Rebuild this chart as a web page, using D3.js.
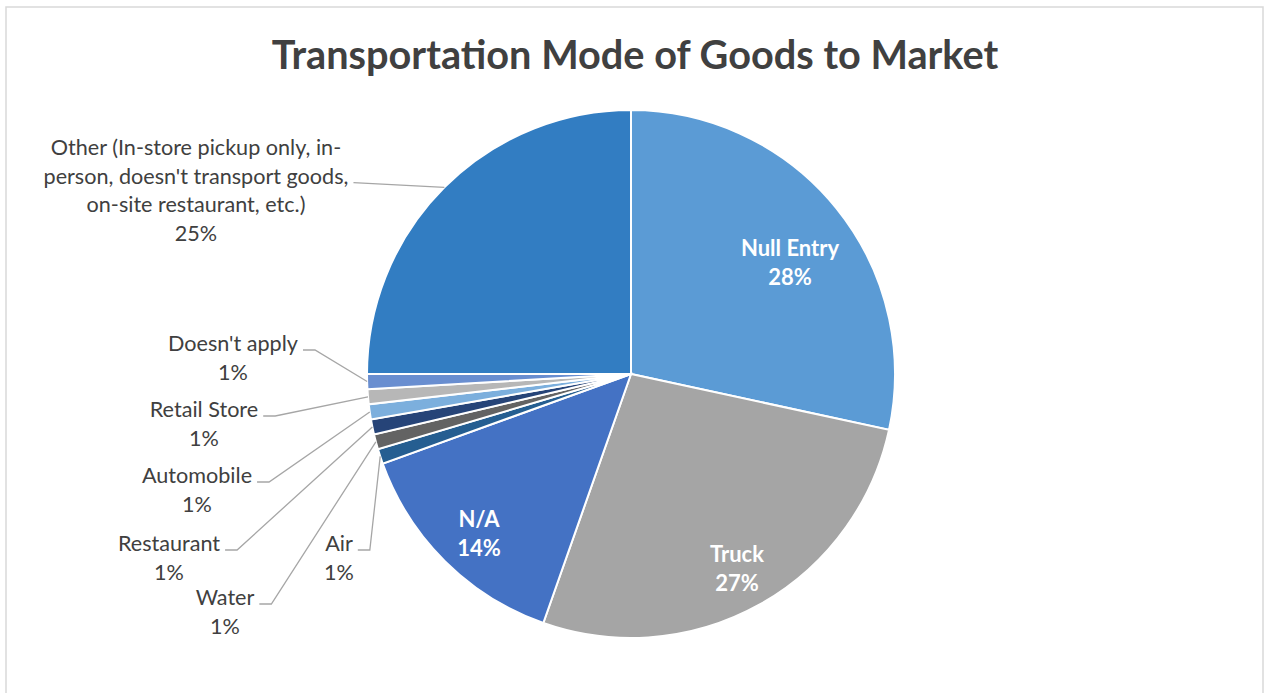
<!DOCTYPE html>
<html>
<head>
<meta charset="utf-8">
<script src="https://cdn.jsdelivr.net/npm/d3@7"></script>
<style>
  body { margin: 0; background: #fff; }
  svg text { font-family: Lato, "Open Sans", sans-serif; }
</style>
</head>
<body>
<div id="chart"></div>
<script>
var width = 1267, height = 693;

// data (clockwise from 12 o'clock)
var categories = ["Null Entry", "Truck", "N/A", "Air", "Water", "Restaurant",
                  "Automobile", "Retail Store", "Doesn't apply",
                  "Other (In-store pickup only, in-|person, doesn't transport goods,|on-site restaurant, etc.)"];
var shares = [28.4, 27.0, 14.1, 0.92, 0.92, 0.92, 0.92, 0.92, 0.92, 25.0];
var colors = ["#5B9BD5", "#A5A5A5", "#4472C4", "#255E91", "#636363", "#264478",
              "#7CAFDD", "#B7B7B7", "#698ED0", "#327DC2"];
var insideLabels = [true, true, true, false, false, false, false, false, false, false];

// label layout: centre x and first baseline, relative to the page
var labelAt = [
  [790, 256], [737, 562], [479, 527],
  [339, 551], [225, 605], [169, 551], [197, 483], [204, 417], [233, 351],
  [196, 155]
];
var lineGap = 28.7;

var cx = 631, cy = 374, radius = 264;

var svg = d3.select("#chart").append("svg")
    .attr("width", width)
    .attr("height", height);

svg.append("rect")
    .attr("x", 6).attr("y", 7)
    .attr("width", 1257).attr("height", 720)
    .attr("fill", "none")
    .attr("stroke", "#d9d9d9")
    .attr("stroke-width", 1.5);

svg.append("text")
    .attr("x", 635).attr("y", 69)
    .attr("text-anchor", "middle")
    .attr("font-size", 39.7)
    .attr("font-weight", "bold")
    .attr("fill", "#404040")
    .text("Transportation Mode of Goods to Market");

var rows = categories.map(function(c, i) {
  return { name: c, value: shares[i], color: colors[i], inside: insideLabels[i], pos: labelAt[i] };
});

var pie = d3.pie().sort(null).value(function(d) { return d.value; });
var arc = d3.arc().innerRadius(0).outerRadius(radius);

var g = svg.append("g").attr("transform", "translate(" + cx + "," + cy + ")");

var arcs = pie(rows);

g.selectAll("path")
  .data(arcs).enter()
  .append("path")
  .attr("d", arc)
  .attr("fill", function(d) { return d.data.color; })
  .attr("stroke", "#fff")
  .attr("stroke-width", 2);

var total = d3.sum(shares);

arcs.forEach(function(a) {
  var d = a.data;
  var lines = d.name.split("|");
  lines.push(Math.round(d.value / total * 100) + "%");
  var t = svg.append("text")
    .attr("text-anchor", "middle")
    .attr("font-size", d.inside ? 22 : 21.6)
    .attr("font-weight", d.inside ? "bold" : "normal")
    .attr("fill", d.inside ? "#fff" : "#404040");
  lines.forEach(function(l, k) {
    t.append("tspan")
      .attr("x", d.pos[0])
      .attr("y", d.pos[1] + k * lineGap)
      .text(l);
  });

  if (!d.inside) {
    // leader line: from label edge to middle of the slice's outer arc
    var mid = (a.startAngle + a.endAngle) / 2;
    var ex = cx + radius * Math.sin(mid);
    var ey = cy - radius * Math.cos(mid);
    var row = lines.length > 2 ? 1 : 0;
    var tsp = t.selectAll("tspan").nodes()[row];
    var w = tsp.getComputedTextLength();
    var sx = d.pos[0] + w / 2 + 5;
    var sy = d.pos[1] + row * lineGap - 1;
    var pts = lines.length > 2 ? [[sx, sy], [ex, ey]] : [[sx, sy], [sx + 12, sy], [ex, ey]];
    svg.append("path")
      .attr("d", d3.line()(pts))
      .attr("fill", "none")
      .attr("stroke", "#a6a6a6")
      .attr("stroke-width", 1.3);
  }
});
</script>
</body>
</html>
